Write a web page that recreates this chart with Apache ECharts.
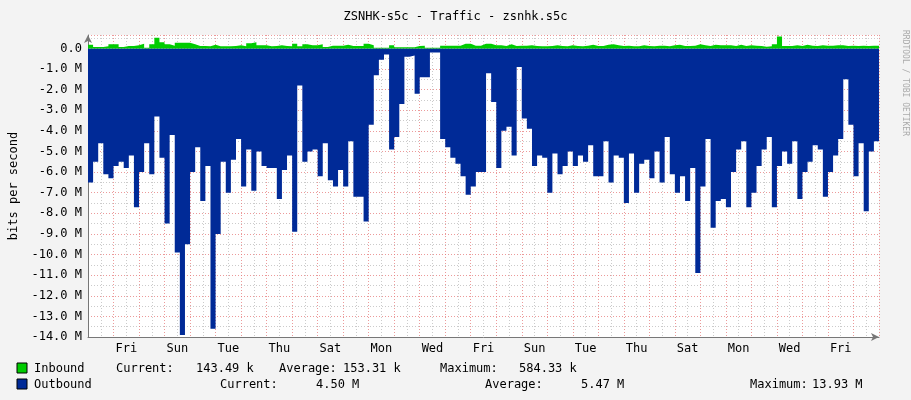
<!DOCTYPE html>
<html>
<head>
<meta charset="utf-8">
<script src="https://cdn.jsdelivr.net/npm/echarts@6/dist/echarts.min.js"></script>
<style>
  html, body { margin: 0; padding: 0; background: #f3f3f3; }
  #chart { width: 911px; height: 400px; }
</style>
</head>
<body>
<div id="chart"></div>
<script>
// 5 samples per day, 31 days, values in M bits/s
const stepHours = 4.8;
const totalHours = 744;

const outbound = [
  6.5,5.5,4.6,6.1,6.3,5.7,5.5,5.8,5.2,7.7,6.0,4.6,6.1,3.3,5.3,8.5,4.2,9.9,13.9,9.5,
  6.0,4.8,7.4,5.7,13.6,9.0,5.5,7.0,5.4,4.4,6.7,4.9,6.9,5.0,5.7,5.8,5.8,7.3,5.9,5.2,
  8.9,1.8,5.5,5.0,4.9,6.2,4.6,6.4,6.7,5.9,6.7,4.5,7.2,7.2,8.4,3.7,1.3,0.55,0.3,4.9,
  4.3,2.7,0.4,0.35,2.2,1.4,1.4,0.2,0.2,4.4,4.8,5.3,5.6,6.2,7.1,6.7,6.0,6.0,1.2,
  2.6,5.8,4.0,3.8,5.2,0.9,3.4,3.9,5.7,5.2,5.3,7.0,5.1,6.1,5.7,5.0,5.7,5.2,5.5,4.7,
  6.2,6.2,4.5,6.5,5.2,5.3,7.5,5.1,7.0,5.6,5.4,6.3,5.0,6.5,4.3,6.1,7.0,6.2,7.4,5.8,
  10.9,6.7,4.4,8.7,7.4,7.3,7.7,6.0,4.9,4.5,7.7,7.0,5.7,4.9,4.3,7.7,5.7,5.0,5.6,4.5,
  7.3,6.0,5.5,4.7,4.9,7.2,6.0,5.2,4.4,1.5,3.7,6.2,4.6,7.9,5.0,4.5
];

const inbound = [
  0.18,0.07,0.07,0.10,0.20,0.20,0.07,0.12,0.12,0.15,0.23,0.03,0.20,0.52,0.30,0.20,0.13,0.28,0.28,0.28,
  0.20,0.12,0.12,0.10,0.18,0.10,0.10,0.10,0.12,0.15,0.10,0.25,0.30,0.15,0.15,0.10,0.12,0.15,0.12,0.10,
  0.22,0.10,0.20,0.15,0.15,0.20,0.07,0.13,0.13,0.13,0.18,0.12,0.12,0.12,0.22,0.15,0.03,0.03,0.03,0.15,
  0.05,0.05,0.05,0.05,0.12,0.13,0.03,0.03,0.03,0.13,0.13,0.13,0.13,0.22,0.22,0.13,0.13,0.22,0.22,
  0.15,0.15,0.12,0.20,0.12,0.13,0.13,0.15,0.12,0.10,0.10,0.12,0.15,0.12,0.10,0.15,0.12,0.10,0.13,0.18,
  0.12,0.12,0.18,0.20,0.15,0.12,0.13,0.10,0.10,0.15,0.12,0.10,0.13,0.13,0.10,0.15,0.18,0.12,0.12,0.13,
  0.20,0.15,0.12,0.18,0.15,0.15,0.15,0.12,0.18,0.12,0.15,0.13,0.12,0.08,0.10,0.20,0.58,0.12,0.12,0.15,
  0.12,0.18,0.13,0.12,0.15,0.13,0.13,0.15,0.15,0.12,0.13,0.12,0.13,0.12,0.13,0.13
];

// one label every two days, centred on midday
const dayLabels = ["Fri","Sun","Tue","Thu","Sat","Mon","Wed","Fri","Sun","Tue","Thu","Sat","Mon","Wed","Fri"];

function toSteps(arr, sign) {
  const pts = arr.map((v, i) => [i * stepHours, sign * v]);
  pts.push([totalHours, sign * arr[arr.length - 1]]);
  return pts;
}

const mono = "DejaVu Sans Mono";
const red = "rgba(230,120,120,0.75)";
const gray = "rgba(190,190,190,0.8)";

const chart = echarts.init(document.getElementById("chart"));
chart.setOption({
  animation: false,
  backgroundColor: "#f3f3f3",
  title: {
    text: "ZSNHK-s5c - Traffic - zsnhk.s5c",
    left: "center",
    top: 6,
    textStyle: { fontFamily: mono, fontSize: 12, fontWeight: "normal", color: "#000" }
  },
  grid: {
    left: 81, right: 32, top: 35, bottom: 63,
    show: true, backgroundColor: "#fff", borderWidth: 0
  },
  xAxis: {
    type: "value",
    min: 0,
    max: totalHours,
    interval: 12,
    axisLine: { onZero: false, lineStyle: { color: "#777", width: 1 }, symbol: ["none", "arrow"], symbolSize: [6, 8] },
    axisTick: { show: false },
    splitLine: { show: true, lineStyle: { type: [1, 2], color: [red, gray], width: 1 } },
    axisLabel: {
      fontFamily: mono, fontSize: 12, color: "#000", margin: 6, showMaxLabel: false,
      formatter: function (v) {
        const k = (v - 36) / 48;
        return (Number.isInteger(k) && k >= 0 && k < dayLabels.length) ? dayLabels[k] : "";
      }
    }
  },
  yAxis: {
    type: "value",
    min: -14,
    max: 0.65,
    interval: 0.5,
    name: "bits per second",
    nameLocation: "middle",
    nameGap: 68,
    nameTextStyle: { fontFamily: mono, fontSize: 12, color: "#000" },
    axisLine: { show: true, lineStyle: { color: "#777", width: 1 }, symbol: ["none", "arrow"], symbolSize: [6, 8] },
    axisTick: { show: false },
    splitLine: { show: true, lineStyle: { type: [1, 2], color: [red, gray], width: 1 } },
    axisLabel: {
      fontFamily: mono, fontSize: 12, color: "#000", margin: 6, showMaxLabel: false,
      formatter: function (v) {
        if (!Number.isInteger(v) || v > 0) return "";
        return v === 0 ? "0.0" : v.toFixed(1) + " M";
      }
    }
  },
  series: [
    {
      name: "Outbound",
      type: "line",
      step: "end",
      showSymbol: false,
      data: toSteps(outbound, -1),
      lineStyle: { width: 0 },
      areaStyle: { color: "#002a97", opacity: 1 },
      z: 2
    },
    {
      name: "Inbound",
      type: "line",
      step: "end",
      showSymbol: false,
      data: toSteps(inbound, 1),
      lineStyle: { width: 0 },
      areaStyle: { color: "#00cc00", opacity: 1 },
      z: 3
    }
  ],
  graphic: [
    { type: "text", right: 2, top: 30, rotation: -Math.PI / 2, x: 903, y: 30,
      style: { text: "RRDTOOL / TOBI OETIKER", fontFamily: mono, fontSize: 8, fill: "#aaa" } },
    { type: "rect", shape: { x: 17, y: 363, width: 10, height: 10 }, style: { fill: "#00cc00", stroke: "#000", lineWidth: 1 } },
    { type: "rect", shape: { x: 17, y: 379, width: 10, height: 10 }, style: { fill: "#002a97", stroke: "#000", lineWidth: 1 } },
    ...[
      ["Inbound", 34, 369], ["Current:", 116, 369], ["143.49 k", 196, 369], ["Average:", 279, 369],
      ["153.31 k", 343, 369], ["Maximum:", 440, 369], ["584.33 k", 519, 369],
      ["Outbound", 34, 385], ["Current:", 220, 385], ["4.50 M", 316, 385], ["Average:", 485, 385],
      ["5.47 M", 581, 385], ["Maximum:", 750, 385], ["13.93 M", 812, 385]
    ].map(t => ({
      type: "text", x: t[1], y: t[2],
      style: { text: t[0], fontFamily: mono, fontSize: 12, fill: "#000", textVerticalAlign: "middle" }
    }))
  ]
});
</script>
</body>
</html>
